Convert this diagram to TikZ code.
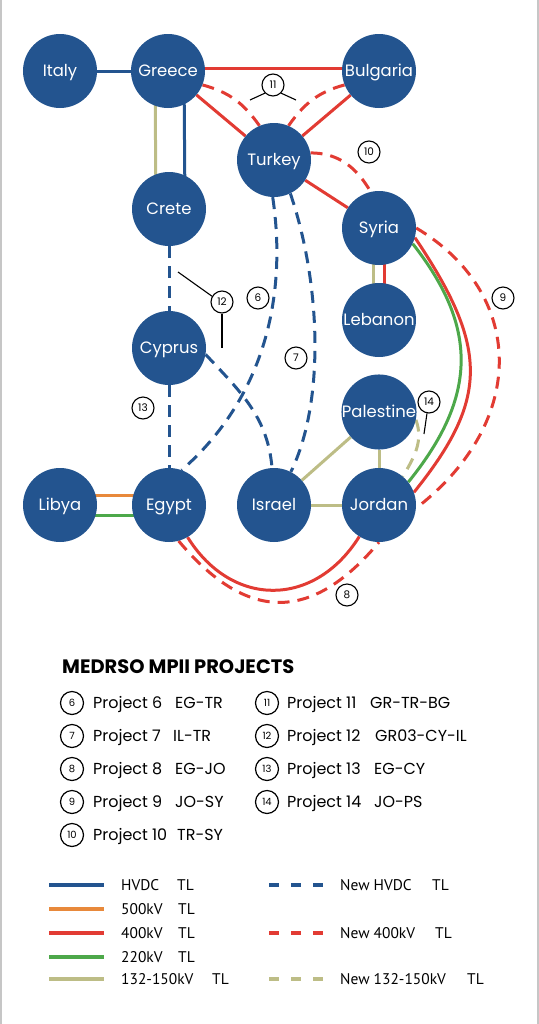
\documentclass[tikz,border=0pt]{standalone}
\usepackage{fontspec}
\setmainfont{Poppins}
\newfontfamily\keyfont{PT Sans}
\usetikzlibrary{positioning,backgrounds}

\definecolor{hvdcblue}{HTML}{23548F}
\definecolor{kvred}{HTML}{E23B33}
\definecolor{kvgreen}{HTML}{4DA84A}
\definecolor{kvolive}{HTML}{BDBD86}
\definecolor{kvorange}{HTML}{E8893B}

\begin{document}
\begin{tikzpicture}[
  x=1bp,y=-1bp,
  country/.style={circle,fill=hvdcblue,text=white,minimum size=74bp,inner sep=0pt,
    text height=11.5bp,text depth=0pt,font=\fontsize{16.5}{20}\selectfont},
  projtag/.style={circle,draw=black,line width=1.1bp,fill=white,minimum size=22bp,inner sep=0pt,
    text height=7.5bp,text depth=0pt,font=\fontsize{10.5}{12}\selectfont},
  legtag/.style={projtag,minimum size=23bp,line width=1.2bp,font=\fontsize{10}{12}\selectfont},
  legtext/.style={anchor=base west,inner sep=0pt,font=\fontsize{16}{19}\selectfont},
  linetext/.style={anchor=base west,inner sep=0pt,font=\keyfont\fontsize{15.5}{18}\selectfont},
  leader/.style={line width=1.1bp},
  hvdc/.style={hvdcblue,line width=3bp},
  l500/.style={kvorange,line width=3bp},
  l400/.style={kvred,line width=3bp},
  l220/.style={kvgreen,line width=3bp},
  l132/.style={kvolive,line width=3bp},
  planned/.style={dash pattern=on 12bp off 8bp},
  swatch/.style={line width=4bp},
  swatchdash/.style={line width=4bp,dash pattern=on 10bp off 12bp}
]
\useasboundingbox (0,0) rectangle (539,1024);
\draw[gray!45,line width=1.5bp] (1,0) -- (1,1024);
\draw[gray!45,line width=1.5bp] (538,0) -- (538,1024);

% countries
\node[country] (italy) at (60,71) {Italy};
\node[country] (greece) at (168,71) {Greece};
\node[country] (bulgaria) at (379,71) {Bulgaria};
\node[country] (turkey) at (274,160) {Turkey};
\node[country] (crete) at (169,209) {Crete};
\node[country] (syria) at (379,228) {Syria};
\node[country] (lebanon) at (379,320) {Lebanon};
\node[country] (cyprus) at (169,348) {Cyprus};
\node[country] (palestine) at (379,412) {Palestine};
\node[country] (libya) at (60,505) {Libya};
\node[country] (egypt) at (169,505) {Egypt};
\node[country] (israel) at (274,505) {Israel};
\node[country] (jordan) at (379,505) {Jordan};

% existing and new links
\begin{scope}[on background layer]
\draw[hvdc] (italy) -- (greece);
\draw[l400] ([yshift=3bp]greece.center) -- ([yshift=3bp]bulgaria.center);
\draw[l400] (greece) -- (turkey);
\draw[l400] (bulgaria) -- (turkey);
\draw[l400] (turkey) -- (syria);
\draw[l132] ([xshift=-13bp]greece.center) -- ([xshift=-13bp]crete.center);
\draw[hvdc] ([xshift=16bp]greece.center) -- ([xshift=16bp]crete.center);
\draw[l132] ([xshift=-6bp]syria.center) -- ([xshift=-6bp]lebanon.center);
\draw[l400] ([xshift=5bp]syria.center) -- ([xshift=5bp]lebanon.center);
\draw[l500] ([yshift=10bp]libya.center) -- ([yshift=10bp]egypt.center);
\draw[l220] ([yshift=-10bp]libya.center) -- ([yshift=-10bp]egypt.center);
\draw[l132] (israel) -- (jordan);
\draw[l132] (israel) -- (palestine);
\draw[l132] (palestine) -- (jordan);
\draw[l220] (syria.-25) .. controls (478,327) and (478,396) .. (jordan.38);
\draw[l400] (syria.-15) .. controls (489,348) and (489,399) .. (jordan.20);
\draw[l400] (egypt.-60) to[out=-58,in=-122,looseness=1.25] (jordan.-122);

\draw[l400,planned] (greece.-22) to[out=-15,in=125] (turkey.113);
\draw[l400,planned] (bulgaria.-158) to[out=195,in=55] (turkey.67);
\draw[l400,planned] (turkey.11) to[out=0,in=120] (syria.103);
\draw[l400,planned] (syria.0) .. controls (524,292) and (530,420) .. (jordan.-5);
\draw[l400,planned] (egypt.-75) to[out=-50,in=-130,looseness=1.35] (jordan.-90);
\draw[hvdc,planned] (crete) -- (cyprus);
\draw[hvdc,planned] (cyprus) -- (egypt);
\draw[hvdc,planned] (turkey.-92) .. controls (288,300) and (262,400) .. (egypt.70);
\draw[hvdc,planned] (turkey.-64) .. controls (320,280) and (326,400) .. (israel.63);
\draw[hvdc,planned] (cyprus.-10) to[out=-47,in=95] (israel.93);
\draw[l132,planned] (palestine.-12) to[out=-70,in=60] (jordan.50);
\end{scope}

% project tags
\node[projtag] (t6) at (258,298) {6};
\node[projtag] (t7) at (296,358) {7};
\node[projtag] (t8) at (347,595) {8};
\node[projtag] (t9) at (503,298) {9};
\node[projtag] (t10) at (369,152) {10};
\node[projtag] (t11) at (273,85) {11};
\node[projtag] (t12) at (222,302) {12};
\node[projtag] (t13) at (143,408) {13};
\node[projtag] (t14) at (429,402) {14};
\coordinate (t11a) at (250,100);
\coordinate (t11b) at (296,100);
\coordinate (t12a) at (178,272);
\coordinate (t12b) at (222,348);
\coordinate (t14a) at (424,434);
\draw[leader] (t11.-135) -- (t11a);
\draw[leader] (t11.-45) -- (t11b);
\draw[leader] (t12.150) -- (t12a);
\draw[leader] (t12.south) -- (t12b);
\draw[leader] (t14.-100) -- (t14a);

% project legend
\node[anchor=base west,inner sep=0pt,font=\fontsize{19.5}{23}\selectfont\bfseries] (head) at (62,673) {MEDRSO MPII PROJECTS};

\node[legtag] (g6) at (72,703) {6};
\node[legtag] (g7) at (72,736) {7};
\node[legtag] (g8) at (72,769) {8};
\node[legtag] (g9) at (72,802) {9};
\node[legtag] (g10) at (72,835) {10};
\node[legtag] (g11) at (267,703) {11};
\node[legtag] (g12) at (267,736) {12};
\node[legtag] (g13) at (267,769) {13};
\node[legtag] (g14) at (267,802) {14};

\node[legtext] at (93,708.5) {Project 6};
\node[legtext] at (93,741.5) {Project 7};
\node[legtext] at (93,774.5) {Project 8};
\node[legtext] at (93,807.5) {Project 9};
\node[legtext] at (93,840.5) {Project 10};
\node[legtext] at (287,708.5) {Project 11};
\node[legtext] at (287,741.5) {Project 12};
\node[legtext] at (287,774.5) {Project 13};
\node[legtext] at (287,807.5) {Project 14};

\node[legtext] at (175,708.5) {EG-TR};
\node[legtext] at (173,741.5) {IL-TR};
\node[legtext] at (175,774.5) {EG-JO};
\node[legtext] at (175,807.5) {JO-SY};
\node[legtext] at (177,840.5) {TR-SY};
\node[legtext] at (370,708.5) {GR-TR-BG};
\node[legtext] at (375,741.5) {GR03-CY-IL};
\node[legtext] at (374,774.5) {EG-CY};
\node[legtext] at (374,807.5) {JO-PS};

% line legend
\draw[swatch,hvdcblue] (49,885) -- (104,885);
\draw[swatch,kvorange] (49,909) -- (104,909);
\draw[swatch,kvred] (49,933) -- (104,933);
\draw[swatch,kvgreen] (49,957) -- (104,957);
\draw[swatch,kvolive] (49,979) -- (104,979);
\draw[swatchdash,hvdcblue] (269,885) -- (325,885);
\draw[swatchdash,kvred] (269,933) -- (325,933);
\draw[swatchdash,kvolive] (269,979) -- (325,979);

\node[linetext] at (121,890) {HVDC};
\node[linetext] at (121,914) {500kV};
\node[linetext] at (121,938) {400kV};
\node[linetext] at (121,962) {220kV};
\node[linetext] at (121,984) {132-150kV};
\node[linetext] at (177,890) {TL};
\node[linetext] at (178,914) {TL};
\node[linetext] at (178,938) {TL};
\node[linetext] at (178,962) {TL};
\node[linetext] at (212,984) {TL};
\node[linetext] at (340,890) {New HVDC};
\node[linetext] at (340,938) {New 400kV};
\node[linetext] at (340,984) {New 132-150kV};
\node[linetext] at (432,890) {TL};
\node[linetext] at (435,938) {TL};
\node[linetext] at (467,984) {TL};
\end{tikzpicture}
\end{document}
